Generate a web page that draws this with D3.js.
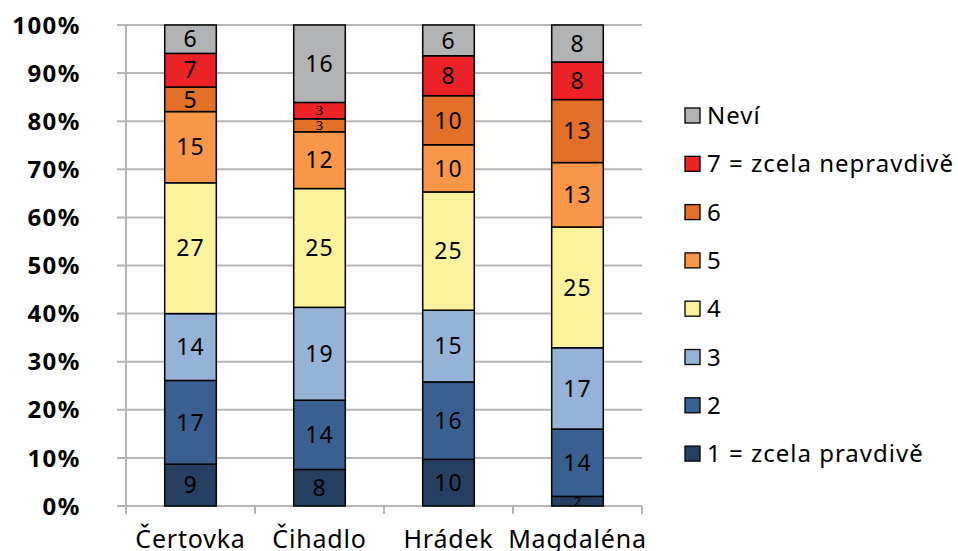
<!DOCTYPE html>
<html>
<head>
<meta charset="utf-8">
<script src="https://cdn.jsdelivr.net/npm/d3@7"></script>
<style>
  body { margin: 0; background: #fff; }
  svg { display: block; font-family: "Noto Sans", "Open Sans", sans-serif; }
</style>
</head>
<body>
<div id="chart"></div>
<script>
// categories and series (percent shares)
var categories = ["Čertovka", "Čihadlo", "Hrádek", "Magdaléna"];
var seriesNames = ["1 = zcela pravdivě", "2", "3", "4", "5", "6", "7 = zcela nepravdivě", "Neví"];
var s1 = [8.7, 7.6, 9.7, 2.0];
var s2 = [17.4, 14.4, 16.1, 14.0];
var s3 = [13.9, 19.3, 14.9, 16.9];
var s4 = [27.2, 24.7, 24.6, 25.1];
var s5 = [14.8, 11.8, 9.8, 13.4];
var s6 = [5.1, 2.7, 10.2, 13.1];
var s7 = [7.0, 3.4, 8.3, 7.8];
var nevi = [5.9, 16.1, 6.4, 7.7];
var yTicks = [0, 10, 20, 30, 40, 50, 60, 70, 80, 90, 100];

var colors = ["#253f61", "#386192", "#95b3d7", "#faf39b", "#f79747", "#e27027", "#ed2227", "#b0b2b4"];

function init()
{
  var width = 958, height = 551;
  var plot = {left: 126, right: 642, top: 25, bottom: 506};

  var svg = d3.select("#chart")
    .append("svg")
    .attr("width", width)
    .attr("height", height);

  var allSeries = [s1, s2, s3, s4, s5, s6, s7, nevi];
  var rows = categories.map(function(c, i) {
    var row = {cat: c};
    seriesNames.forEach(function(k, j) { row[k] = allSeries[j][i]; });
    return row;
  });

  var stacked = d3.stack().keys(seriesNames)(rows);

  var xScale = d3.scaleBand()
    .domain(categories)
    .range([plot.left, plot.right])
    .padding(0);

  var yScale = d3.scaleLinear()
    .domain([0, 100])
    .range([plot.bottom, plot.top]);

  var barW = xScale.bandwidth() * 0.4;

  // gridlines
  svg.append("g")
    .selectAll("line")
    .data(yTicks)
    .enter()
    .append("line")
      .attr("x1", plot.left - 9)
      .attr("x2", plot.right)
      .attr("y1", function(d) { return yScale(d); })
      .attr("y2", function(d) { return yScale(d); })
      .style("stroke", "#b5b5b5")
      .style("stroke-width", "2");

  // y axis line
  svg.append("line")
    .attr("x1", plot.left).attr("x2", plot.left)
    .attr("y1", plot.top).attr("y2", plot.bottom + 8)
    .style("stroke", "#b5b5b5")
    .style("stroke-width", "2");

  // x axis ticks between categories
  var bounds = categories.map(function(c) { return xScale(c); }).concat([plot.right]);
  svg.append("g")
    .selectAll("line")
    .data(bounds.slice(1))
    .enter()
    .append("line")
      .attr("x1", function(d) { return d; })
      .attr("x2", function(d) { return d; })
      .attr("y1", plot.bottom)
      .attr("y2", plot.bottom + 8)
      .style("stroke", "#b5b5b5")
      .style("stroke-width", "2");

  // y tick labels
  svg.append("g")
    .selectAll("text")
    .data(yTicks)
    .enter()
    .append("text")
      .attr("x", 81)
      .attr("y", function(d) { return yScale(d); })
      .attr("dy", "0.36em")
      .style("text-anchor", "end")
      .style("font-weight", "bold")
      .style("font-size", "24px")
      .style("letter-spacing", "1.5px")
      .style("fill", "#000")
      .text(function(d) { return d + "%"; });

  // bars
  var layers = svg.append("g")
    .selectAll("g")
    .data(stacked)
    .enter()
    .append("g")
      .style("fill", function(d, i) { return colors[i]; });

  layers.selectAll("rect")
    .data(function(d) { return d; })
    .enter()
    .append("rect")
      .attr("x", function(d) { return xScale(d.data.cat) + (xScale.bandwidth() - barW) / 2; })
      .attr("y", function(d) { return yScale(d[1]); })
      .attr("width", barW)
      .attr("height", function(d) { return yScale(d[0]) - yScale(d[1]); })
      .style("stroke", "#000")
      .style("stroke-width", "1.5");

  // value labels
  layers.selectAll("text")
    .data(function(d) { return d; })
    .enter()
    .append("text")
      .attr("x", function(d) { return xScale(d.data.cat) + xScale.bandwidth() / 2; })
      .attr("y", function(d) { return (yScale(d[0]) + yScale(d[1])) / 2; })
      .attr("dy", "0.36em")
      .style("text-anchor", "middle")
      .style("fill", "#000")
      .style("font-size", function(d) { return (d[1] - d[0]) < 4 ? "13px" : "23px"; })
      .style("letter-spacing", function(d) { return (d[1] - d[0]) < 4 ? "0px" : "1px"; })
      .text(function(d) { return Math.round(d[1] - d[0]); });

  // category labels
  svg.append("g")
    .selectAll("text")
    .data(categories)
    .enter()
    .append("text")
      .attr("x", function(d) { return xScale(d) + xScale.bandwidth() / 2; })
      .attr("y", 548)
      .style("text-anchor", "middle")
      .style("font-size", "25px")
      .style("letter-spacing", "0.8px")
      .style("fill", "#000")
      .text(function(d) { return d; });

  // legend, top item is the last series
  var legend = svg.append("g")
    .attr("class", "legend");

  var items = legend.selectAll("g")
    .data(seriesNames.slice().reverse())
    .enter()
    .append("g")
      .attr("transform", function(d, i) { return "translate(685," + (115.5 + i * 48.3) + ")"; });

  items.append("rect")
    .attr("x", 0)
    .attr("y", -7.5)
    .attr("width", 15)
    .attr("height", 15)
    .style("fill", function(d) { return colors[seriesNames.indexOf(d)]; })
    .style("stroke", "#000")
    .style("stroke-width", "1.3");

  items.append("text")
    .attr("x", 22)
    .attr("y", 0)
    .attr("dy", "0.36em")
    .style("font-size", "24px")
    .style("letter-spacing", "1px")
    .style("fill", "#000")
    .text(function(d) { return d; });
}

window.onload = init;
</script>
</body>
</html>
